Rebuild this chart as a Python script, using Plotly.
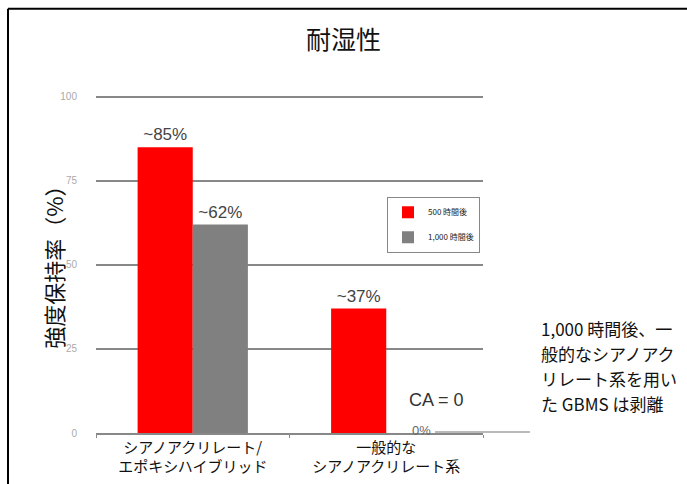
import plotly.graph_objects as go

# Data
categories = ["シアノアクリレート/<br>エポキシハイブリッド", "一般的な<br>シアノアクリレート系"]
series_names = ["500 時間後", "1,000 時間後"]
values_500h = [85, 37]
values_1000h = [62, 0]
labels_500h = ["~85%", "~37%"]
labels_1000h = ["~62%", "0%"]
y_ticks = [0, 25, 50, 75, 100]
note_lines = ["1,000 時間後、一", "般的なシアノアク", "リレート系を用い", "た GBMS は剥離"]

JP = "Noto Sans CJK JP"
W, H = 687, 484
Y_MAX = 102
L, R, B = 96, 204, 51
PH = 336 * Y_MAX / 100
T = H - B - PH
PW = W - L - R


def px(x):
    return (x - L) / PW


def py(y):
    return (H - B - y) / PH


label_font = dict(family="Liberation Sans", size=17, color="#444444")

fig = go.Figure()
fig.add_trace(go.Bar(
    x=categories, y=values_500h, name=series_names[0],
    marker=dict(color="#ff0000", line=dict(width=0)),
    text=labels_500h, textposition="outside", textfont=label_font,
    legendgroup="a", cliponaxis=False,
))
# the zero bar gets its label as a separate annotation beside the leader line
fig.add_trace(go.Bar(
    x=categories, y=values_1000h, name=series_names[1],
    marker=dict(color="#808080", line=dict(width=0)),
    text=labels_1000h, textposition=["outside", "none"], textfont=label_font,
    legendgroup="b", cliponaxis=False,
))

annotations = []
annotations.append(dict(
    x=categories[1], y=values_1000h[1], xref="x", yref="y",
    text=labels_1000h[1], showarrow=False, xshift=35, yshift=3,
    font=dict(family="Liberation Sans", size=13, color="#666666"),
))
annotations.append(dict(
    x=px(466), y=py(412), xref="paper", yref="paper", text="CA = 0",
    showarrow=False, font=dict(family="Liberation Sans", size=18, color="#333333"),
))
for i, line in enumerate(note_lines):
    annotations.append(dict(
        x=px(539), y=py(329 + 25 * i), xref="paper", yref="paper",
        text=line, showarrow=False, xanchor="left", yanchor="middle",
        font=dict(family=JP, size=17, color="#111111"),
    ))
# y-axis title
annotations.append(dict(
    x=px(35), y=py(262), xref="paper", yref="paper", text="強度保持率（%）",
    textangle=-90, showarrow=False,
    font=dict(family=JP, size=22, color="#111111"),
))

shapes = [
    # outer frame (left and top edges)
    dict(type="line", xref="paper", yref="paper", x0=px(8), x1=px(8), y0=py(9), y1=py(484),
         line=dict(color="black", width=2)),
    dict(type="line", xref="paper", yref="paper", x0=px(8), x1=px(687), y0=py(9), y1=py(9),
         line=dict(color="black", width=2)),
    # leader line for the zero value
    dict(type="line", xref="paper", yref="paper", x0=px(435), x1=px(530), y0=py(432), y1=py(432),
         line=dict(color="#777777", width=1.2)),
]

fig.update_layout(
    width=W, height=H,
    margin=dict(l=L, r=R, t=T, b=B, autoexpand=False),
    paper_bgcolor="white", plot_bgcolor="white",
    title=dict(text="耐湿性", x=0.5, xanchor="center", y=1 - 40 / H, yanchor="middle",
               font=dict(family=JP, size=25, color="#111111")),
    barmode="group", bargap=0.43, bargroupgap=0,
    showlegend=True,
    legend=dict(x=px(480), y=py(197), xanchor="right", yanchor="top",
                bordercolor="#888888", borderwidth=1, bgcolor="white",
                font=dict(family=JP, size=8, color="#222222"),
                traceorder="grouped", tracegroupgap=6, itemwidth=30),
    annotations=annotations,
    shapes=shapes,
)
fig.update_xaxes(
    automargin=False,
    showline=True, linecolor="#888888", linewidth=1.5,
    ticks="outside", tickson="boundaries", ticklen=3, tickcolor="#888888",
    tickfont=dict(family=JP, size=15, color="#111111"),
    showgrid=False,
)
fig.update_yaxes(
    automargin=False,
    range=[0, Y_MAX], tickvals=y_ticks,
    showgrid=True, gridcolor="#888888", gridwidth=1.5,
    zeroline=False, showline=False,
    ticklabelstandoff=18,
    tickfont=dict(family="Liberation Sans", size=10, color="#aaaaaa"),
)

fig.write_html("out.html")
